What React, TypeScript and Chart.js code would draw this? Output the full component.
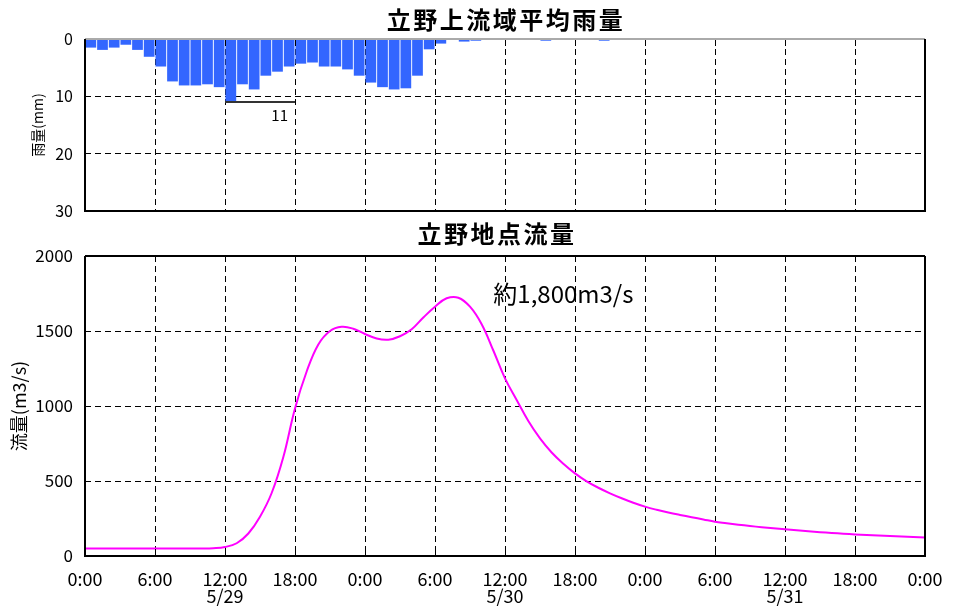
import React, { useEffect, useRef } from 'react';
import { Chart, registerables } from 'chart.js';

Chart.register(...registerables);

const FONT = '"Noto Sans CJK JP", "Noto Sans", sans-serif';

// ---- text ----
const rainTitle = '立野上流域平均雨量';
const flowTitle = '立野地点流量';
const rainAxisTitle = '雨量(mm)';
const flowAxisTitle = '流量(m3/s)';
const flowNote = '約1,800m3/s';

// ---- x axis (hours from 5/29 0:00) ----
const hourTicks = [0, 6, 12, 18, 24, 30, 36, 42, 48, 54, 60, 66, 72];
const timeLabels = ['0:00', '6:00', '12:00', '18:00', '0:00', '6:00', '12:00', '18:00', '0:00', '6:00', '12:00', '18:00', '0:00'];
const dateLabels = ['', '', '5/29', '', '', '', '5/30', '', '', '', '5/31', '', ''];

// ---- y axes ----
const rainTicks = [0, 10, 20, 30];
const flowTicks = [0, 500, 1000, 1500, 2000];

// ---- hourly basin-average rainfall (mm), hour 0..71 ----
const rainValues = [
  1.5, 1.9, 1.5, 1.0, 1.9, 3.1, 4.8, 7.4, 8.1, 8.1, 7.9, 8.4,
  11.0, 7.9, 8.8, 6.4, 5.7, 4.8, 4.3, 4.1, 4.8, 4.8, 5.3, 6.4,
  7.6, 8.4, 8.8, 8.6, 6.4, 1.8, 0.8, 0, 0.45, 0.3, 0, 0,
  0, 0, 0, 0.3, 0, 0, 0, 0, 0.3, 0, 0, 0,
  0, 0, 0, 0, 0, 0, 0, 0, 0, 0, 0, 0,
  0, 0, 0, 0, 0, 0, 0, 0, 0, 0, 0, 0,
];

// ---- hourly discharge (m3/s), hour 0..72 ----
const flowValues = [
  50, 50, 50, 50, 50, 50, 50, 50, 50, 50, 50, 52,
  60, 85, 150, 262, 420, 660, 984, 1230, 1410, 1500, 1528, 1515,
  1480, 1450, 1442, 1465, 1512, 1590, 1662, 1718, 1722, 1662, 1545, 1370,
  1184, 1040, 900, 784, 690, 615, 551, 498, 455, 418, 385, 355,
  329, 308, 290, 274, 259, 244, 229, 219, 209, 200, 192, 185,
  178, 171, 165, 159, 154, 149, 144, 140, 136, 133, 130, 127,
  124,
];

// peak rainfall marker (hours spanned by the marker line)
const peakMarkerHours = [12, 18];
// where the peak-flow note sits (hour, m3/s)
const noteHour = 35;
const noteValue = 1750;

const framePlugin = {
  id: 'frame',
  afterDatasetsDraw(chart: any, _args: any, opts: any) {
    const { ctx, chartArea } = chart;
    const { left, right, top, bottom } = chartArea;
    const xs = chart.scales.x;
    ctx.save();
    ctx.setLineDash([]);
    ctx.strokeStyle = '#000';
    ctx.lineWidth = 1;
    for (const t of xs.ticks) {
      const px = Math.round(xs.getPixelForValue(t.value)) + 0.5;
      ctx.beginPath();
      if (opts.tickSide === 'bottom') {
        ctx.moveTo(px, bottom);
        ctx.lineTo(px, bottom - 7);
      } else {
        ctx.moveTo(px, top);
        ctx.lineTo(px, top + 7);
      }
      ctx.stroke();
    }
    ctx.lineWidth = 2;
    ctx.strokeStyle = opts.topColor || '#000';
    ctx.beginPath();
    ctx.moveTo(left, top);
    ctx.lineTo(right, top);
    ctx.stroke();
    ctx.strokeStyle = '#000';
    ctx.beginPath();
    ctx.moveTo(left, top);
    ctx.lineTo(left, bottom);
    ctx.lineTo(right, bottom);
    ctx.lineTo(right, top);
    ctx.stroke();
    ctx.restore();
  },
};

// panel title, centred over the plot area
const titlePlugin = {
  id: 'panelTitle',
  afterDraw(chart: any, _args: any, opts: any) {
    const { ctx, chartArea } = chart;
    ctx.save();
    ctx.fillStyle = '#000';
    ctx.font = `bold 24px ${FONT}`;
    (ctx as any).letterSpacing = '2.5px';
    ctx.textAlign = 'center';
    ctx.textBaseline = 'middle';
    const cx = (chartArea.left + chartArea.right) / 2 + (opts.dx || 0);
    ctx.fillText(opts.text, cx, opts.y);
    ctx.restore();
  },
};

const peakPlugin = {
  id: 'peakMarker',
  afterDatasetsDraw(chart: any) {
    const { ctx } = chart;
    const xs = chart.scales.x;
    const ys = chart.scales.y;
    const maxRain = Math.max(...rainValues);
    const y = ys.getPixelForValue(maxRain);
    const x1 = xs.getPixelForValue(peakMarkerHours[0]);
    const x2 = xs.getPixelForValue(peakMarkerHours[1]);
    ctx.save();
    ctx.strokeStyle = '#333';
    ctx.lineWidth = 2;
    ctx.beginPath();
    ctx.moveTo(x1, y);
    ctx.lineTo(x2, y);
    ctx.stroke();
    ctx.fillStyle = '#000';
    ctx.font = `15px ${FONT}`;
    ctx.textAlign = 'right';
    ctx.textBaseline = 'top';
    ctx.fillText(String(Math.round(maxRain)), x2 - 7, y + 6);
    ctx.restore();
  },
};

const notePlugin = {
  id: 'flowNote',
  afterDatasetsDraw(chart: any) {
    const { ctx } = chart;
    const x = chart.scales.x.getPixelForValue(noteHour);
    const y = chart.scales.y.getPixelForValue(noteValue);
    ctx.save();
    ctx.fillStyle = '#000';
    ctx.font = `24px ${FONT}`;
    ctx.textAlign = 'left';
    ctx.textBaseline = 'middle';
    ctx.fillText(flowNote, x, y);
    ctx.restore();
  },
};

const gridOpts = { color: '#000', lineWidth: 1, drawTicks: false, offset: false };
const borderOpts = { display: false, dash: [6, 4] };

const fixY = (s: any) => {
  s.width = 85;
  s.paddingTop = 0;
  s.paddingBottom = 0;
};

function RainChart() {
  const ref = useRef<HTMLCanvasElement>(null);
  useEffect(() => {
    const chart = new Chart(ref.current as HTMLCanvasElement, {
      type: 'bar',
      data: {
        datasets: [
          {
            data: rainValues.map((v, i) => ({ x: i + 0.5, y: v })) as any,
            backgroundColor: '#3366ff',
            borderWidth: 0,
            barPercentage: 0.92,
            categoryPercentage: 1,
          },
        ],
      },
      options: {
        animation: false,
        responsive: false,
        devicePixelRatio: 1,
        layout: { padding: { left: 0, right: 35, top: 39, bottom: 0 } },
        plugins: {
          legend: { display: false },
          tooltip: { enabled: false },
          title: { display: false },
          panelTitle: { text: rainTitle, y: 19.5, dx: 1 },
          frame: { tickSide: 'top', topColor: '#aaa' },
        } as any,
        scales: {
          x: {
            type: 'linear',
            min: 0,
            max: 72,
            offset: false,
            afterBuildTicks: (s: any) => {
              s.ticks = hourTicks.map((v) => ({ value: v }));
            },
            ticks: { display: false },
            grid: gridOpts,
            border: borderOpts,
            afterFit: (s: any) => {
              s.height = 11;
              s.paddingLeft = 0;
              s.paddingRight = 0;
            },
          } as any,
          y: {
            reverse: true,
            min: 0,
            max: 30,
            afterBuildTicks: (s: any) => {
              s.ticks = rainTicks.map((v) => ({ value: v }));
            },
            ticks: { padding: 12, color: '#000', font: { family: FONT, size: 16 }, callback: (v: any) => String(v) },
            grid: gridOpts,
            border: borderOpts,
            title: {
              display: true,
              text: rainAxisTitle,
              color: '#000',
              font: { family: FONT, size: 14 },
              padding: { top: 29, bottom: 0 },
            },
            afterFit: fixY,
          } as any,
        },
      },
      plugins: [framePlugin, peakPlugin, titlePlugin],
    });
    return () => chart.destroy();
  }, []);
  return <canvas ref={ref} width={960} height={222} style={{ display: 'block', width: 960, height: 222 }} />;
}

function FlowChart() {
  const ref = useRef<HTMLCanvasElement>(null);
  useEffect(() => {
    const chart = new Chart(ref.current as HTMLCanvasElement, {
      type: 'line',
      data: {
        datasets: [
          {
            data: flowValues.map((v, i) => ({ x: i, y: v })) as any,
            borderColor: '#ff00ff',
            borderWidth: 2,
            pointRadius: 0,
            fill: false,
            tension: 0.4,
          },
        ],
      },
      options: {
        animation: false,
        responsive: false,
        devicePixelRatio: 1,
        layout: { padding: { left: 0, right: 35, top: 34, bottom: 0 } },
        plugins: {
          legend: { display: false },
          tooltip: { enabled: false },
          title: { display: false },
          panelTitle: { text: flowTitle, y: 12, dx: -8 },
          frame: { tickSide: 'bottom', topColor: '#000' },
        } as any,
        scales: {
          x: {
            type: 'linear',
            min: 0,
            max: 72,
            offset: false,
            afterBuildTicks: (s: any) => {
              s.ticks = hourTicks.map((v) => ({ value: v }));
            },
            ticks: {
              autoSkip: false,
              maxRotation: 0,
              padding: 15,
              color: '#000',
              font: { family: FONT, size: 18, lineHeight: '17px' } as any,
              callback: (v: any) => {
                const i = hourTicks.indexOf(Number(v));
                if (i < 0) return '';
                return dateLabels[i] ? [timeLabels[i], dateLabels[i]] : timeLabels[i];
              },
            },
            grid: gridOpts,
            border: borderOpts,
            afterFit: (s: any) => {
              s.height = 52;
              s.paddingLeft = 0;
              s.paddingRight = 0;
            },
          } as any,
          y: {
            min: 0,
            max: 2000,
            afterBuildTicks: (s: any) => {
              s.ticks = flowTicks.map((v) => ({ value: v }));
            },
            ticks: { padding: 12, color: '#000', font: { family: FONT, size: 17 }, callback: (v: any) => String(v) },
            grid: gridOpts,
            border: borderOpts,
            title: {
              display: true,
              text: flowAxisTitle,
              color: '#000',
              font: { family: FONT, size: 18 },
              padding: { top: 8, bottom: 0 },
            },
            afterFit: fixY,
          } as any,
        },
      },
      plugins: [framePlugin, notePlugin, titlePlugin],
    });
    return () => chart.destroy();
  }, []);
  return <canvas ref={ref} width={960} height={386} style={{ display: 'block', width: 960, height: 386 }} />;
}

export default function App() {
  return (
    <div
      style={{
        position: 'fixed',
        left: 0,
        top: 0,
        width: 960,
        height: 608,
        background: '#fff',
        overflow: 'hidden',
      }}
    >
      <div style={{ position: 'absolute', left: 0, top: 0 }}>
        <RainChart />
      </div>
      <div style={{ position: 'absolute', left: 0, top: 222 }}>
        <FlowChart />
      </div>
    </div>
  );
}
